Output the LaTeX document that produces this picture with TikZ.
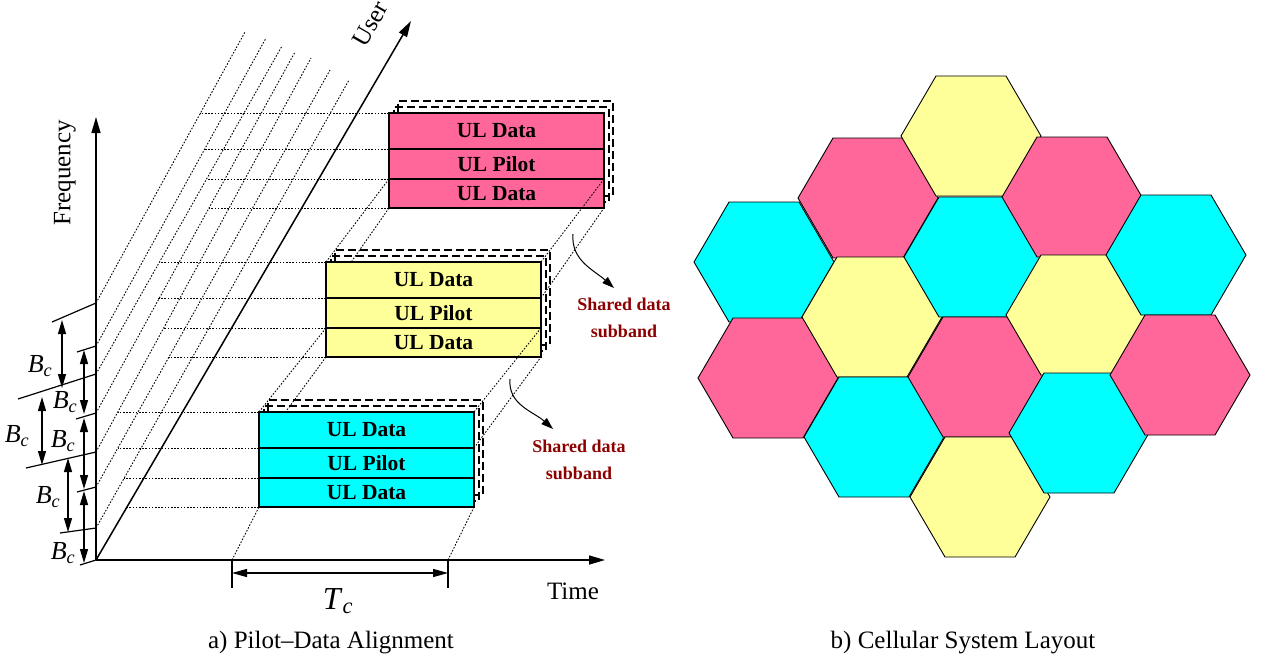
\documentclass[tikz,border=0pt]{standalone}
\usepackage{fontspec}
\setmainfont{Liberation Serif}
\usetikzlibrary{positioning,arrows.meta,backgrounds}
\definecolor{cellpink}{RGB}{255,102,153}
\definecolor{cellyellow}{RGB}{255,255,153}
\definecolor{cellcyan}{RGB}{0,255,255}
\definecolor{labelred}{RGB}{140,0,0}

\begin{document}
\begin{tikzpicture}[x=1pt, y=-1pt, >={Triangle[length=14pt,width=8pt]}, every node/.style={font=\fontsize{25}{28}\selectfont}]
\tikzstyle{axisline}=[line width=1.5pt, >={Triangle[length=16pt,width=9pt]}]
\tikzstyle{guide}=[line width=0.9pt, dash pattern=on 1.6pt off 1.6pt]
\tikzstyle{band}=[rectangle, draw, line width=1.3pt, minimum width=215pt, inner sep=0pt, outer sep=0pt, font=\fontsize{21.5}{23}\selectfont\bfseries]
\tikzstyle{ghost}=[draw, line width=1.1pt, dash pattern=on 8pt off 4pt]
\tikzstyle{tick}=[line width=1.2pt]
\tikzstyle{bclabel}=[inner sep=0pt, font=\fontsize{26}{28}\selectfont]
\tikzstyle{shared}=[align=center, text=labelred, font=\fontsize{18}{27}\selectfont\bfseries]
\tikzstyle{hexcell}=[draw, line width=0.9pt]
\useasboundingbox (0,0) rectangle (1261,657);

\coordinate (o) at (96,560);
\coordinate (f0) at (96,560);
\coordinate (freqtip) at (96,117);
\coordinate (timetip) at (605,560);
\coordinate (usertip) at (411,21);
\foreach \i/\ty/\ex/\ey in {1/528/349/80, 2/487/330/70, 3/452/311/58, 4/413/295/52, 5/374/282/46, 6/346/266/38, 7/303/245/32}{
  \coordinate (f\i) at (96,\ty);
  \coordinate (e\i) at (\ex,\ey);
  \draw[guide] (f\i) -- (e\i);
}
\draw[axisline, ->] (o) -- (freqtip);
\draw[axisline, ->] (o) -- (timetip);
\draw[axisline, ->] (o) -- (usertip);
\foreach \i/\lx/\ly in {0/80/565, 1/60/533, 2/77/492, 3/26/468, 4/76/419, 5/18/399, 6/77/352, 7/52/322}
  \draw[tick] (f\i) -- (\lx,\ly);
\foreach \k/\x/\ya/\yb/\lx/\ly in {1/62/320/388/40/366, 2/42/397/465/17/436, 3/68/458/532/48/497, 4/84/350/414/65/402, 5/84/418/489/63/441, 6/84/491/563/63/553}{
  \coordinate (bc\k top) at (\x,\ya);
  \coordinate (bc\k bot) at (\x,\yb);
  \draw[<->, tick] (bc\k top) -- (bc\k bot);
  \node[bclabel] (bc\k) at (\lx,\ly) {\textit{B}\textsubscript{\textit{c}}};
}

\coordinate (tc0) at (232,560);
\coordinate (tc1) at (448,560);
\coordinate (tc0low) at (232,588);
\coordinate (tc1low) at (448,588);
\coordinate (tc0mid) at (232,573);
\coordinate (tc1mid) at (448,573);
\draw[tick] (tc0) -- (tc0low);
\draw[tick] (tc1) -- (tc1low);
\draw[<->, tick, >={Triangle[length=15pt,width=8pt]}] (tc0mid) -- (tc1mid);

\foreach \blk/\col/\bx/\by in {c/cellcyan/259/412, y/cellyellow/326/262, p/cellpink/389/113}{
  \node[band, fill=\col, minimum height=36pt, anchor=north west] (\blk1) at (\bx,\by) {UL Data};
  \node[band, fill=\col, minimum height=30pt, below=0pt of \blk1] (\blk2) {UL Pilot};
  \node[band, fill=\col, minimum height=29pt, below=0pt of \blk2] (\blk3) {UL Data};
}

\begin{scope}[on background layer]
\foreach \blk in {c,y,p}
  \foreach \dx/\dy in {5/-6, 9/-12}
    \draw[ghost] ([shift={(\dx,\dy)}]\blk3.south west) rectangle ([shift={(\dx,\dy)}]\blk1.north east);
\foreach \corner/\len in {c1.north west/141, c1.south west/141, c2.south west/135, c3.south west/132, y1.north west/166, y1.south west/168, y2.south west/162, y3.south west/157, p1.north west/189, p1.south west/184, p2.south west/182, p3.south west/180}
  \draw[guide] (\corner) -- ++(-\len,0);
\draw[guide] (tc0) -- (c3.south west);
\draw[guide] (tc1) -- (c3.south east);
\draw[guide] (c1.north west) -- (y3.north west);
\draw[guide] (y3.south west) -- (c1.south west);
\draw[guide] (y1.north west) -- (p3.north west);
\draw[guide] (p3.south west) -- (y1.south west);
\draw[guide] (c1.south east) -- (y3.south east);
\draw[guide] (y1.south east) -- (p3.south east);
\end{scope}
\draw[guide] (y3.north east) -- (c1.north east);
\draw[guide] (p3.north east) -- (y1.north east);

\node[shared] (shared1) at (624,318) {Shared data\\subband};
\node[shared] (shared2) at (579,460) {Shared data\\subband};
\coordinate (gap1) at (573,234);
\coordinate (gap2) at (510,379);
\coordinate (tip1) at (614,288);
\coordinate (tip2) at (553,429);
\draw[->, line width=1pt, >={Triangle[length=12pt,width=8pt]}] (gap1) to[out=-95, in=138] (tip1);
\draw[->, line width=1pt, >={Triangle[length=12pt,width=8pt]}] (gap2) to[out=-95, in=138] (tip2);

\node (tclabel) at (338,601) {\fontsize{32}{34}\selectfont\textit{T}\textsubscript{\textit{c}}};
\node (timelabel) at (573,591) {Time};
\node[rotate=90] (freqlabel) at (65,173) {Frequency};
\node[rotate=60] (userlabel) at (370,24) {User};

\foreach \cx/\cy/\col in {764/262/cellcyan, 768/378/cellpink, 868/198/cellpink, 872/317/cellyellow, 874/437/cellcyan, 971/136/cellyellow, 974/257/cellcyan, 978/377/cellpink, 980/497/cellyellow, 1072/197/cellpink, 1076/315/cellyellow, 1079/433/cellcyan, 1176/255/cellcyan, 1180/375/cellpink}
  \draw[hexcell, fill=\col] (\cx,\cy) +(-35,-60) -- +(35,-60) -- +(70,0) -- +(35,60) -- +(-35,60) -- +(-70,0) -- cycle;

\node (capa) at (331,643) {a) Pilot--Data Alignment};
\node (capb) at (963,643) {b) Cellular System Layout};
\end{tikzpicture}
\end{document}
